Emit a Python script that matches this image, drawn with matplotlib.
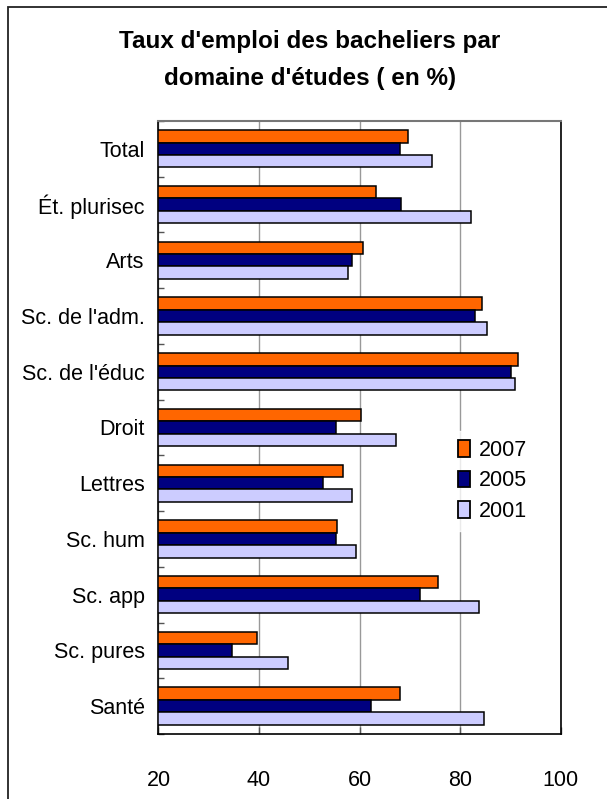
import matplotlib
matplotlib.use('Agg')
import matplotlib.pyplot as plt
import matplotlib.patches as mpatches
import numpy as np

# data
domaines = ["Total", "Ét. plurisec", "Arts", "Sc. de l'adm.", "Sc. de l'éduc",
            "Droit", "Lettres", "Sc. hum", "Sc. app", "Sc. pures", "Santé"]
taux_2007 = [69.7, 63.2, 60.6, 84.3, 91.5, 60.3, 56.7, 55.6, 75.6, 39.6, 68.0]
taux_2005 = [68.0, 68.3, 58.5, 82.9, 90.2, 55.3, 52.7, 55.3, 72.0, 34.6, 62.2]
taux_2001 = [74.5, 82.1, 57.7, 85.4, 90.9, 67.3, 58.5, 59.3, 83.7, 45.7, 84.7]
annees = ["2007", "2005", "2001"]
couleurs = ["#FF6600", "#000080", "#CCCCFF"]

plt.rcParams['font.family'] = ['Liberation Sans', 'DejaVu Sans']

fig = plt.figure(figsize=(6.07, 7.99), dpi=100)
ax = fig.add_axes([0.2611, 0.0814, 0.9237 - 0.2611, 0.8486 - 0.0814])

y = np.arange(len(domaines))
h = 0.223
series = [taux_2007, taux_2005, taux_2001]
for i, (vals, col, lab) in enumerate(zip(series, couleurs, annees)):
    ax.barh(y + (i - 1) * h, np.array(vals) - 20, left=20, height=h,
            color=col, edgecolor='black', linewidth=1.1, label=lab, zorder=3)

ax.set_xlim(20, 100)
ax.set_ylim(len(domaines) - 0.5, -0.5)
ax.set_xticks([20, 40, 60, 80, 100])
ax.tick_params(axis='x', direction='in', length=5, width=1, color='#555555',
               labelsize=15.5, pad=26)
ax.set_yticks(y)
ax.set_yticklabels(domaines)
ax.tick_params(axis='y', length=0, labelsize=15.5, pad=10)
ax.set_yticks(np.arange(len(domaines) + 1) - 0.5, minor=True)
ax.tick_params(axis='y', which='minor', direction='in', length=4, width=1, color='#555555')

ax.grid(axis='x', color='#999999', linewidth=1, zorder=0)
ax.set_axisbelow(True)
for s in ['left', 'right', 'bottom']:
    ax.spines[s].set_color('black')
    ax.spines[s].set_linewidth(1.2)
ax.spines['top'].set_color('#777777')
ax.spines['top'].set_linewidth(1.5)

leg = ax.legend(loc='center', bbox_to_anchor=(0.811, 0.398),
                bbox_transform=fig.transFigure, frameon=True, fontsize=15.5,
                handlelength=0.55, handleheight=0.8, handletextpad=0.4,
                labelspacing=0.45, borderpad=0.4, fancybox=False)
leg.get_frame().set_edgecolor('white')
leg.get_frame().set_facecolor('white')
leg.set_zorder(5)
for p in leg.get_patches():
    p.set_linewidth(1.3)

fig.text(0.51, 0.925, "Taux d'emploi des bacheliers par\ndomaine d'études ( en %)",
         ha='center', va='center', fontsize=17.5, fontweight='bold', linespacing=1.8)

fig.patches.append(mpatches.Rectangle((0.0132, -0.1), 1.2, 0.9912 + 0.1,
                                      transform=fig.transFigure, fill=False,
                                      edgecolor='#222222', linewidth=1.3))

fig.savefig('out.png', dpi=100)
